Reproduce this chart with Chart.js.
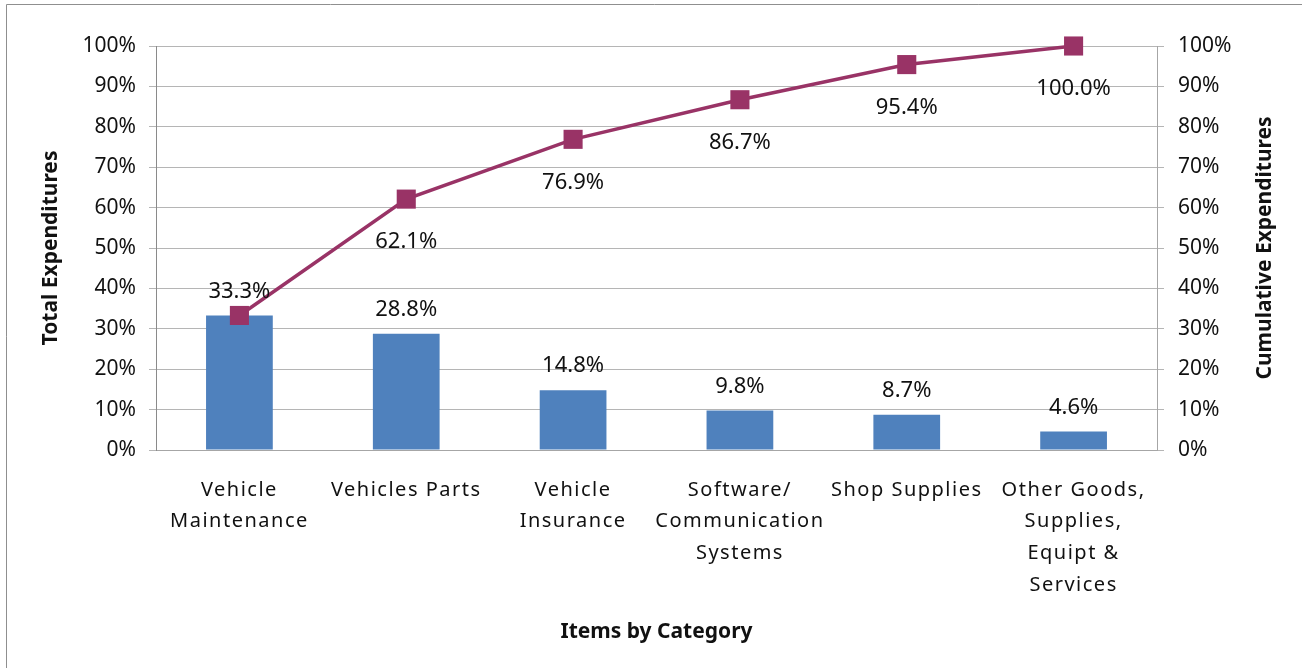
<!DOCTYPE html>
<html>
<head>
<meta charset="utf-8">
<script src="https://cdn.jsdelivr.net/npm/chart.js@4"></script>
<style>
  html, body { margin: 0; padding: 0; background: #fff; }
  #wrap { width: 1302px; height: 668px; position: relative; }
</style>
</head>
<body>
<div id="wrap"><canvas id="myChart" width="1302" height="668"></canvas></div>
<script>
var categories = [
  ['Vehicle', 'Maintenance'],
  ['Vehicles Parts'],
  ['Vehicle', 'Insurance'],
  ['Software/', 'Communication', 'Systems'],
  ['Shop Supplies'],
  ['Other Goods,', 'Supplies,', 'Equipt &', 'Services']
];
var totalPct = [33.3, 28.8, 14.8, 9.8, 8.7, 4.6];
var cumulativePct = [33.3, 62.1, 76.9, 86.7, 95.4, 100.0];
var pctTicks = [0, 10, 20, 30, 40, 50, 60, 70, 80, 90, 100];

const FONT = "'Noto Sans', 'Open Sans', sans-serif";

// grey frame around the chart (left and top edges only are in view)
const chartFrame = {
  id: 'chartFrame',
  beforeDraw(chart) {
    const ctx = chart.ctx;
    ctx.save();
    ctx.strokeStyle = '#8f8f8f';
    ctx.lineWidth = 1;
    ctx.beginPath();
    ctx.moveTo(6.5, chart.height);
    ctx.lineTo(6.5, 4.5);
    ctx.lineTo(chart.width, 4.5);
    ctx.stroke();
    ctx.restore();
  }
};

// value labels: above the bars, below the line points
const valueLabels = {
  id: 'valueLabels',
  afterDatasetsDraw(chart) {
    const ctx = chart.ctx;
    ctx.save();
    ctx.font = '22px ' + FONT;
    ctx.fillStyle = '#111';
    ctx.textAlign = 'center';
    ctx.textBaseline = 'middle';
    chart.getDatasetMeta(0).data.forEach(function(bar, i) {
      ctx.fillText(totalPct[i].toFixed(1) + '%', bar.x, bar.y - 24);
    });
    chart.getDatasetMeta(1).data.forEach(function(pt, i) {
      if (i === 0) return; // overlaps the bar label in the original
      ctx.fillText(cumulativePct[i].toFixed(1) + '%', pt.x, pt.y + 43);
    });
    ctx.restore();
  }
};

// right axis title reads bottom-to-top like the left one
const rightTitle = {
  id: 'rightTitle',
  afterDraw(chart) {
    const ctx = chart.ctx, a = chart.chartArea;
    ctx.save();
    ctx.translate(1265, (a.top + a.bottom) / 2);
    ctx.rotate(-Math.PI / 2);
    ctx.font = 'bold 21px ' + FONT;
    ctx.fillStyle = '#111';
    ctx.textAlign = 'center';
    ctx.textBaseline = 'middle';
    ctx.fillText('Cumulative Expenditures', 0, 0);
    ctx.restore();
  }
};

// the category labels are drawn letter-spaced in the original
const spacedXLabels = {
  id: 'spacedXLabels',
  afterLayout(chart) {
    const sc = chart.scales.x;
    if (sc._spaced) return;
    const orig = sc.drawLabels;
    sc.drawLabels = function(area) {
      this.ctx.save();
      this.ctx.letterSpacing = '1.5px';
      orig.call(this, area);
      this.ctx.restore();
    };
    sc._spaced = true;
  }
};

var myChart = new Chart(document.getElementById('myChart'), {
  type: 'bar',
  data: {
    labels: categories,
    datasets: [{
      label: 'Total Expenditures',
      data: totalPct,
      backgroundColor: '#4F81BD',
      barPercentage: 0.4,
      categoryPercentage: 1,
      yAxisID: 'y',
      order: 1
    }, {
      type: 'line',
      label: 'Cumulative Expenditures',
      data: cumulativePct,
      borderColor: '#993366',
      backgroundColor: '#993366',
      borderWidth: 3.5,
      pointStyle: 'rect',
      pointRadius: 13.5,
      pointBorderWidth: 0,
      yAxisID: 'y1',
      clip: false,
      order: 0
    }]
  },
  options: {
    responsive: false,
    animation: false,
    layout: { padding: { left: 30, right: 17, top: 46, bottom: 18 } },
    plugins: {
      legend: { display: false },
      tooltip: { enabled: false }
    },
    scales: {
      x: {
        grid: { display: false, drawTicks: false },
        border: { display: true, color: '#a6a6a6' },
        ticks: {
          color: '#111',
          padding: 24,
          maxRotation: 0,
          autoSkip: false,
          font: { family: FONT, size: 20, lineHeight: '31.7px' }
        },
        title: {
          display: true,
          text: 'Items by Category',
          color: '#111',
          padding: { top: 0, bottom: 5 },
          font: { family: FONT, size: 21, weight: 'bold' }
        },
        afterFit(scale) { scale.height = 200; }
      },
      y: {
        position: 'left',
        min: 0,
        max: 100,
        afterBuildTicks(scale) { scale.ticks = pctTicks.map(v => ({ value: v })); },
        grid: { color: '#b5b5b5', tickLength: 7 },
        border: { color: '#8a8a8a' },
        ticks: {
          color: '#111',
          padding: 13,
          font: { family: FONT, size: 21 },
          callback: v => v + '%'
        },
        title: {
          display: true,
          text: 'Total Expenditures',
          color: '#111',
          padding: { top: 8, bottom: 0 },
          font: { family: FONT, size: 21, weight: 'bold' }
        },
        afterFit(scale) { scale.width = 126; }
      },
      y1: {
        position: 'right',
        min: 0,
        max: 100,
        afterBuildTicks(scale) { scale.ticks = pctTicks.map(v => ({ value: v })); },
        grid: { drawOnChartArea: false, color: '#b5b5b5', tickLength: 7 },
        border: { color: '#a6a6a6' },
        ticks: {
          color: '#111',
          padding: 14,
          font: { family: FONT, size: 21 },
          callback: v => v + '%'
        },
        title: { display: false },
        afterFit(scale) { scale.width = 128; }
      }
    }
  },
  plugins: [chartFrame, valueLabels, rightTitle, spacedXLabels]
});
</script>
</body>
</html>
